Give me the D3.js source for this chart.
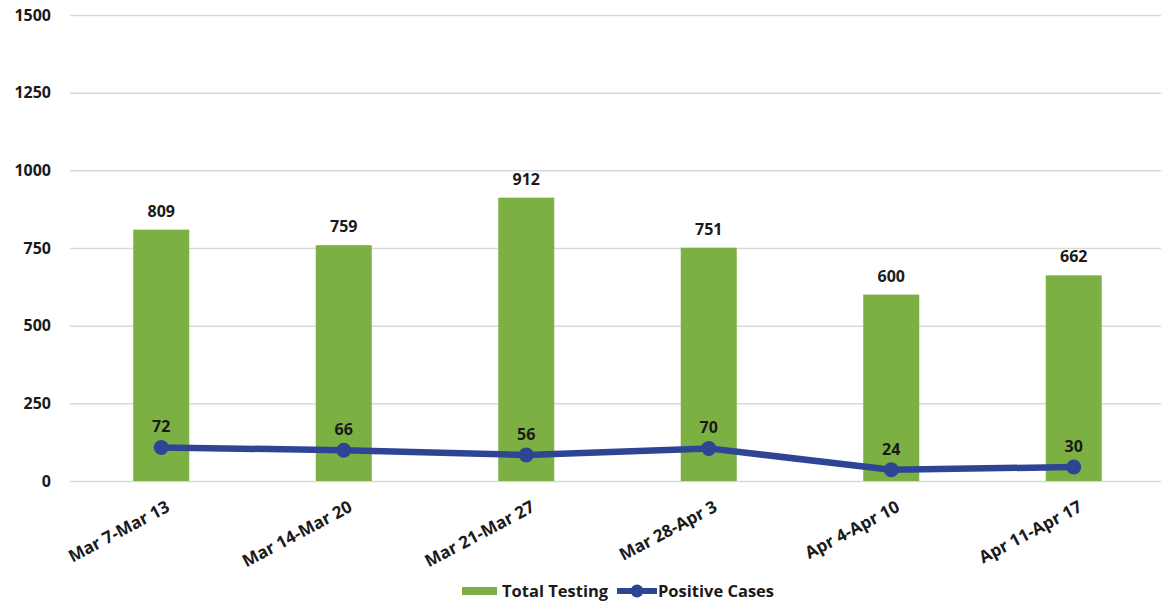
<!DOCTYPE html>
<html>
<head>
<meta charset="utf-8">
<script src="https://cdn.jsdelivr.net/npm/d3@7"></script>
<style>
  body { margin: 0; background: #fff; }
  text { font-family: "Open Sans", "Liberation Sans", sans-serif; font-weight: bold; fill: #1a1a1a; }
</style>
</head>
<body>
<div id="chart"></div>
<script>
// Data
const weeks = ["Mar 7-Mar 13", "Mar 14-Mar 20", "Mar 21-Mar 27", "Mar 28-Apr 3", "Apr 4-Apr 10", "Apr 11-Apr 17"];
const totalTesting = [809, 759, 912, 751, 600, 662];
const positiveCases = [72, 66, 56, 70, 24, 30];
const yTicks = [0, 250, 500, 750, 1000, 1250, 1500];

const width = 1161;
const height = 606;
const margin = { top: 15, right: -4, bottom: 125, left: 70 };

const green = "#7cb042";
const blue = "#2e4596";

const svg = d3.select("#chart")
  .append("svg")
  .attr("width", width)
  .attr("height", height);

// Scales
const xScale = d3.scaleBand()
  .domain(weeks)
  .range([margin.left, width - margin.right]);

const yScale = d3.scaleLinear()
  .domain([0, 1500])
  .range([height - margin.bottom, margin.top]);

// hidden secondary axis for the line
const y2Scale = d3.scaleLinear()
  .domain([0, 1000])
  .range([height - margin.bottom, margin.top]);

// Gridlines + y labels
const yAxis = d3.axisLeft(yScale)
  .tickValues(yTicks)
  .tickFormat(d3.format("d"))
  .tickSize(-(width - margin.left))
  .tickPadding(19);

const yG = svg.append("g")
  .attr("transform", `translate(${margin.left},0)`)
  .call(yAxis);
yG.select(".domain").remove();
yG.selectAll(".tick line").attr("stroke", "#d9d9d9").attr("stroke-width", 1.5);
yG.selectAll(".tick text").style("font-size", "16px");

// Bars
const barW = 56;
svg.append("g")
  .selectAll("rect")
  .data(totalTesting)
  .join("rect")
  .attr("x", (d, i) => xScale(weeks[i]) + xScale.bandwidth() / 2 - barW / 2)
  .attr("y", d => yScale(d))
  .attr("width", barW)
  .attr("height", d => yScale(0) - yScale(d))
  .attr("fill", green);

svg.append("g")
  .selectAll("text")
  .data(totalTesting)
  .join("text")
  .attr("x", (d, i) => xScale(weeks[i]) + xScale.bandwidth() / 2)
  .attr("y", d => yScale(d) - 13)
  .attr("text-anchor", "middle")
  .style("font-size", "16px")
  .text(d => d);

// Line
const line = d3.line()
  .x((d, i) => xScale(weeks[i]) + xScale.bandwidth() / 2)
  .y(d => y2Scale(d));

svg.append("path")
  .datum(positiveCases)
  .attr("d", line)
  .attr("fill", "none")
  .attr("stroke", blue)
  .attr("stroke-width", 6.5)
  .attr("stroke-linejoin", "round");

svg.append("g")
  .selectAll("circle")
  .data(positiveCases)
  .join("circle")
  .attr("cx", (d, i) => xScale(weeks[i]) + xScale.bandwidth() / 2)
  .attr("cy", d => y2Scale(d))
  .attr("r", 7.5)
  .attr("fill", blue);

svg.append("g")
  .selectAll("text")
  .data(positiveCases)
  .join("text")
  .attr("x", (d, i) => xScale(weeks[i]) + xScale.bandwidth() / 2)
  .attr("y", d => y2Scale(d) - 15)
  .attr("text-anchor", "middle")
  .style("font-size", "16px")
  .text(d => d);

// X labels
svg.append("g")
  .selectAll("text")
  .data(weeks)
  .join("text")
  .attr("transform", d => `translate(${xScale(d) + xScale.bandwidth() / 2 + 4},${height - margin.bottom + 19}) rotate(-28)`)
  .attr("text-anchor", "end")
  .attr("dy", "0.7em")
  .style("font-size", "17px")
  .text(d => d);

// Legend
const legend = svg.append("g").attr("transform", "translate(462,591)");
legend.append("rect")
  .attr("x", 0).attr("y", -4)
  .attr("width", 35).attr("height", 8)
  .attr("fill", green);
legend.append("text")
  .attr("x", 40).attr("y", 0).attr("dy", "0.35em")
  .style("font-size", "16.5px")
  .text("Total Testing");
legend.append("line")
  .attr("x1", 155).attr("x2", 195)
  .attr("y1", 0).attr("y2", 0)
  .attr("stroke", blue).attr("stroke-width", 6);
legend.append("circle")
  .attr("cx", 175).attr("cy", 0).attr("r", 6.5)
  .attr("fill", blue);
legend.append("text")
  .attr("x", 196).attr("y", 0).attr("dy", "0.35em")
  .style("font-size", "16.5px")
  .text("Positive Cases");
</script>
</body>
</html>
